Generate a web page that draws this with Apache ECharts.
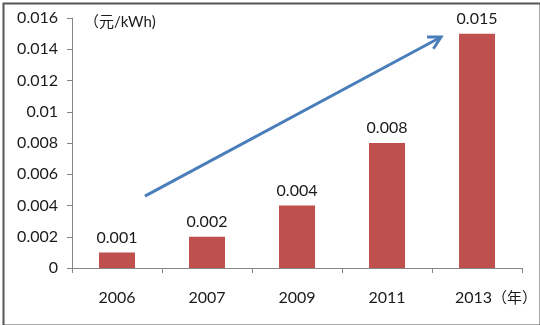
<!DOCTYPE html>
<html><head><meta charset="utf-8">
<script src="https://cdn.jsdelivr.net/npm/echarts@6/dist/echarts.min.js"></script>
<style>html,body{margin:0;padding:0;background:#fff}#c{width:540px;height:325px}</style>
</head><body><div id="c"></div>
<script>
const categories = ['2006', '2007', '2009', '2011', '2013'];
const values = [0.001, 0.002, 0.004, 0.008, 0.015];
const yTicks = [0, 0.002, 0.004, 0.006, 0.008, 0.01, 0.012, 0.014, 0.016];
const unitLabel = '（元/kWh)';
const yearSuffix = '（年）';
// trend arrow endpoints in data units: [category position, value]
const trendArrow = [[0.81, 0.0046], [4.1, 0.01478]];

const font = 'Lato, "Noto Sans CJK SC", sans-serif';
const chart = echarts.init(document.getElementById('c'), null, {renderer: 'canvas'});
const arrowColor = '#4A7EBB';
chart.setOption({
  animation: false,
  grid: {left: 72, right: 17, top: 18, bottom: 57},
  xAxis: [{
    type: 'category', data: categories,
    axisLine: {lineStyle: {color: '#868686', width: 1}},
    axisTick: {show: true, length: 5, interval: 0, lineStyle: {color: '#868686'}},
    axisLabel: {
      interval: 0,
      color: '#1a1a1a', fontSize: 16, fontFamily: font, margin: 22,
      formatter: (v, i) => i === categories.length - 1 ? '{pad|}' + v + '{u|' + yearSuffix + '}' : v,
      rich: {pad: {width: 38}, u: {fontSize: 15, fontFamily: font, color: '#1a1a1a'}}
    }
  }, {
    type: 'value', min: 0, max: 5, show: false
  }],
  yAxis: {
    type: 'value', min: 0, max: 0.016, interval: 0.002,
    splitLine: {show: false},
    axisLine: {show: true, lineStyle: {color: '#868686'}},
    axisTick: {show: true, length: 5, lineStyle: {color: '#868686'}},
    axisLabel: {color: '#1a1a1a', fontSize: 16, fontFamily: font, margin: 14,
      formatter: v => { const t = yTicks.find(x => Math.abs(x - v) < 1e-9); return t === undefined ? '' : String(t); }}
  },
  series: [{
    type: 'bar', data: values, barWidth: '40%',
    itemStyle: {color: '#C0504D'},
    label: {show: true, position: 'top', distance: 7, color: '#1a1a1a', fontSize: 16, fontFamily: font,
      formatter: p => String(p.value)}
  }, {
    type: 'custom', xAxisIndex: 1, yAxisIndex: 0,
    data: [[0]],
    silent: true,
    renderItem: (params, api) => {
      const a = api.coord(trendArrow[0]);
      const b = api.coord(trendArrow[1]);
      const ang = Math.atan2(b[1] - a[1], b[0] - a[0]);
      const L = 14, spread = 0.5;
      const p1 = [b[0] - L * Math.cos(ang - spread), b[1] - L * Math.sin(ang - spread)];
      const p2 = [b[0] - L * Math.cos(ang + spread), b[1] - L * Math.sin(ang + spread)];
      return {type: 'group', children: [
        {type: 'line', shape: {x1: a[0], y1: a[1], x2: b[0] - 1.5*Math.cos(ang), y2: b[1] - 1.5*Math.sin(ang)}, style: {stroke: arrowColor, lineWidth: 3}},
        {type: 'polyline', shape: {points: [p1, b, p2]}, style: {stroke: arrowColor, lineWidth: 3, fill: null, lineJoin: 'miter'}}
      ]};
    }
  }],
  graphic: [
    {type: 'rect', left: 1, top: 1, shape: {width: 537, height: 322}, style: {fill: null, stroke: '#555', lineWidth: 2}, silent: true},
    {type: 'text', left: 84, top: 15, style: {text: unitLabel, fontSize: 15, fontFamily: font, fill: '#1a1a1a'}}
  ]
});
</script></body></html>
